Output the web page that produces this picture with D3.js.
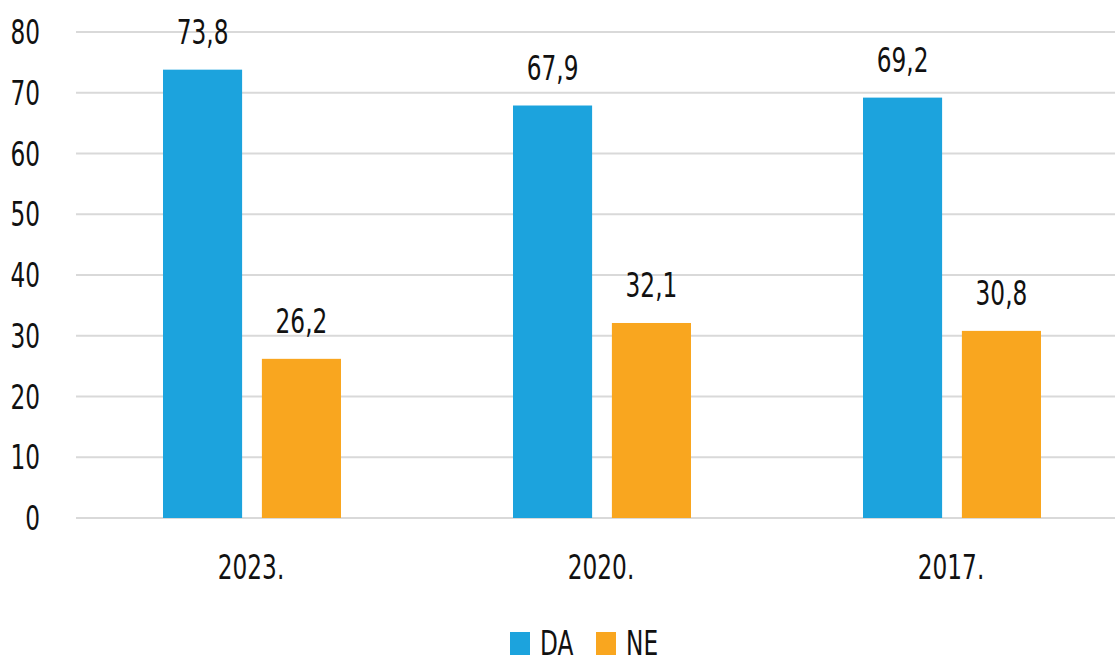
<!DOCTYPE html>
<html>
<head>
<meta charset="utf-8">
<script src="https://cdn.jsdelivr.net/npm/d3@7"></script>
<style>
body { margin: 0; background: #fff; }
text { font-family: "Liberation Sans Narrow", "DejaVu Sans Condensed", sans-serif; fill: #111; font-size: 34px; }
</style>
</head>
<body>
<div id="chart"></div>
<script>
let years = ["2023.", "2020.", "2017."];
let series = ["DA", "NE"];
let da = [73.8, 67.9, 69.2];
let ne = [26.2, 32.1, 30.8];
let yTicks = [0, 10, 20, 30, 40, 50, 60, 70, 80];
let colors = ["#1ca3dd", "#f9a61f"];

let w = 1115, h = 656;
let svg = d3.select("#chart").append("svg").attr("width", w).attr("height", h);

// narrow text: the original font is condensed
let sx = 0.76;
function put(sel, px, py) {
  return sel.attr("transform", (d, i) => "translate(" + px(d, i) + "," + py(d, i) + ") scale(" + sx + ",1)");
}

// scales
let x = d3.scaleBand().domain(years).range([76, 1126]);
let x1 = d3.scaleBand().domain(series).range([87, 265]).paddingInner(0.2);
let y = d3.scaleLinear().domain([0, 80]).range([518, 32]);

// grid
svg.append("g").selectAll("line").data(yTicks).join("line")
  .attr("x1", 76).attr("x2", w)
  .attr("y1", d => y(d)).attr("y2", d => y(d))
  .style("stroke", "#d9d9d9").style("stroke-width", 2);

// y labels
put(svg.append("g").selectAll("text").data(yTicks).join("text")
  .attr("text-anchor", "end").text(d => d), () => 40, d => y(d) + 12);

let rows = years.map((c, i) => ({ year: c, vals: [da[i], ne[i]] }));

let groups = svg.append("g").selectAll("g").data(rows).join("g")
  .attr("transform", d => "translate(" + x(d.year) + ",0)");

groups.selectAll("rect").data(d => d.vals.map((v, j) => ({ s: series[j], v: v, j: j }))).join("rect")
  .attr("x", d => x1(d.s))
  .attr("width", x1.bandwidth())
  .attr("y", d => y(d.v))
  .attr("height", d => y(0) - y(d.v))
  .style("fill", d => colors[d.j]);

put(groups.selectAll("text").data(d => d.vals.map((v, j) => ({ s: series[j], v: v }))).join("text")
  .attr("text-anchor", "middle")
  .text(d => d3.format(".1f")(d.v).replace(".", ",")),
  d => x1(d.s) + x1.bandwidth() / 2, d => y(d.v) - 26);

// x labels
put(svg.append("g").selectAll("text").data(years).join("text")
  .attr("text-anchor", "middle").text(d => d),
  d => x(d) + x.bandwidth() / 2, () => 579);

// legend
let leg = svg.append("g");
let legX = [510, 596];
series.forEach((s, i) => {
  leg.append("rect").attr("x", legX[i]).attr("y", 632).attr("width", 20).attr("height", 23)
    .style("fill", colors[i]);
  leg.append("text").attr("transform", "translate(" + (legX[i] + 30) + ",655) scale(" + sx + ",1)").text(s);
});
</script>
</body>
</html>
